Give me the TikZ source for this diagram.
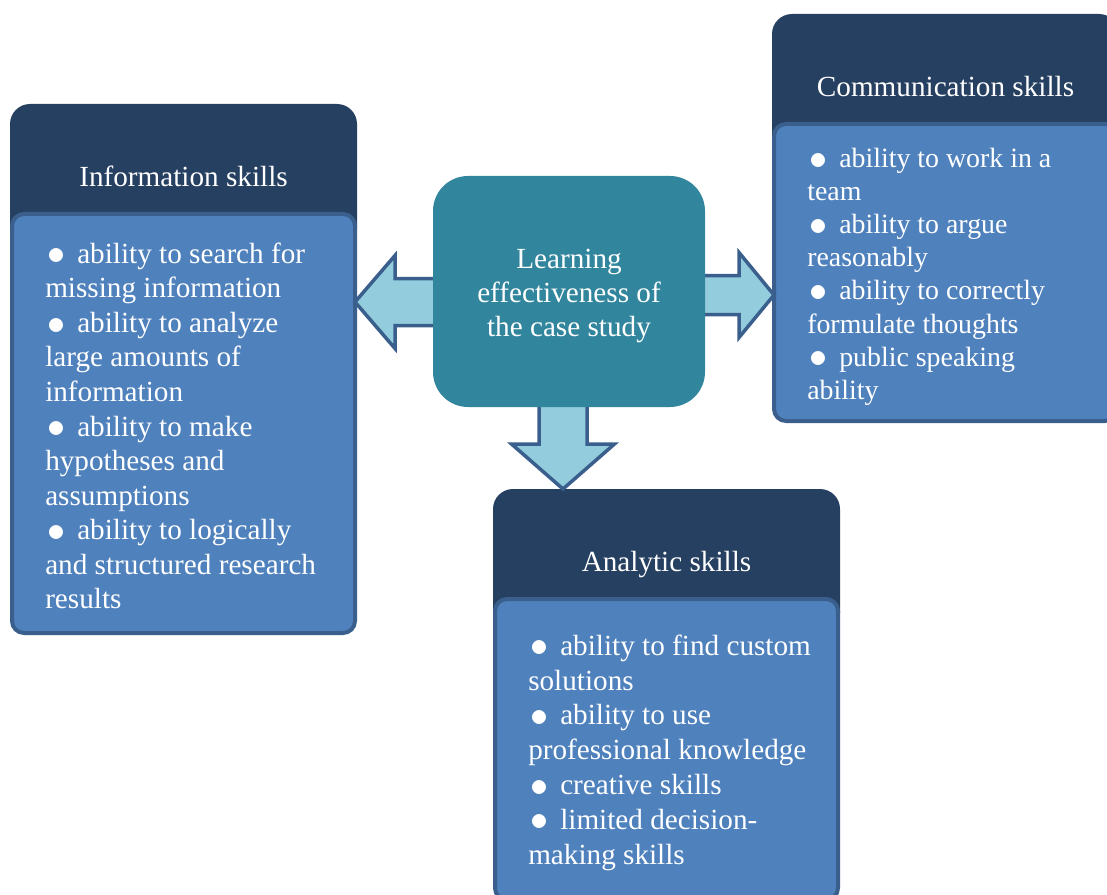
\documentclass[tikz,border=0pt]{standalone}
\usepackage{fontspec}
\setmainfont{Liberation Serif}
\usetikzlibrary{positioning}
\usepackage{xcolor}

\definecolor{headblue}{HTML}{264061}
\definecolor{bodyblue}{HTML}{4F81BD}
\definecolor{bodyline}{HTML}{3A5F8D}
\definecolor{hubteal}{HTML}{31859C}
\definecolor{arrowfill}{HTML}{93CDDD}

\newcommand{\px}{0.75pt}
\newcommand{\itm}{\makebox[24pt][l]{\hspace{1.5pt}\raisebox{-1.2pt}{\scalebox{1.3}{$\bullet$}}}}

\begin{document}
\begin{tikzpicture}
      [x=\px, y=-\px,
      head style/.style={fill=headblue, rounded corners=20*\px, text=white, inner sep=0, outer sep=0,
        minimum width=347*\px, minimum height=144*\px, anchor=north west, text depth=0pt,
        font=\fontsize{21.9pt}{25.9pt}\selectfont},
      body style/.style={draw=bodyline, line width=4*\px, fill=bodyblue, rounded corners=12*\px,
        inner sep=0, outer sep=0, minimum width=343*\px},
      list style/.style={text=white, align=left, inner sep=0, anchor=west,
        font=\fontsize{21.9pt}{25.9pt}\selectfont},
      hub style/.style={fill=hubteal, rounded corners=35*\px,
        minimum width=272*\px, minimum height=231*\px, inner sep=0},
      hub text/.style={text=white, align=center, inner sep=0,
        font=\fontsize{21.9pt}{25.5pt}\selectfont},
      arrow style/.style={draw=bodyline, line width=3.5*\px, fill=arrowfill, line join=miter},
      ]
      \clip (0,0) rectangle (1107,895);

      % skill groups
      \node[head style] (infohead) at (10,104) {Information skills};
      \node[body style, minimum height=419*\px, below=-25.5pt of infohead] (infobody) {};
      \node[list style] (infolist) at ([xshift=33*\px, yshift=-1.8pt]infobody.west)
        {\itm ability to search for\\ missing information\\
         \itm ability to analyze\\ large amounts of\\ information\\
         \itm ability to make\\ hypotheses and\\ assumptions\\
         \itm ability to logically\\ and structured research\\ results};

      \node[head style] (commhead) at (772,14) {Communication skills};
      \node[body style, minimum height=297*\px, below=-25.5pt of commhead] (commbody) {};
      \node[list style, font=\fontsize{20.9pt}{24.8pt}\selectfont] (commlist)
        at ([xshift=33*\px, yshift=-3.2pt]commbody.west)
        {\itm ability to work in a\\ team\\
         \itm ability to argue\\ reasonably\\
         \itm ability to correctly\\ formulate thoughts\\
         \itm public speaking\\ ability};

      \node[head style] (anahead) at (493,489) {Analytic skills};
      \node[body style, minimum height=301*\px, below=-25.5pt of anahead] (anabody) {};
      \node[list style, font=\fontsize{21.9pt}{26.1pt}\selectfont] (analist)
        at ([xshift=33*\px, yshift=-2.3pt]anabody.west)
        {\itm ability to find custom\\ solutions\\
         \itm ability to use\\ professional knowledge\\
         \itm creative skills\\
         \itm limited decision-\\ making skills};

      % block arrows out of the hub
      \coordinate (ltip) at (infobody.east |- 0,302);
      \coordinate (rtip) at (commbody.west |- 0,295);
      \coordinate (dtip) at (563,0 |- anahead.north);
      \draw[arrow style] (ltip) -- ++(40,-46.5) -- ++(0,23) -- ++(90,0) -- ++(0,47)
        -- ++(-90,0) -- ++(0,23) -- cycle;
      \draw[arrow style] (rtip) -- ++(-35,-42.5) -- ++(0,23) -- ++(-100,0) -- ++(0,39)
        -- ++(100,0) -- ++(0,23) -- cycle;
      \draw[arrow style] (dtip) -- ++(-51.5,-45) -- ++(27.5,0) -- ++(0,-100) -- ++(48,0)
        -- ++(0,100) -- ++(27.5,0) -- cycle;

      \node[hub style] (hub) at (569,291.5) {};
      \node[hub text] (hubtext) at ([yshift=-3pt]hub.center)
        {Learning\\ effectiveness of\\ the case study};
    \end{tikzpicture}
\end{document}
